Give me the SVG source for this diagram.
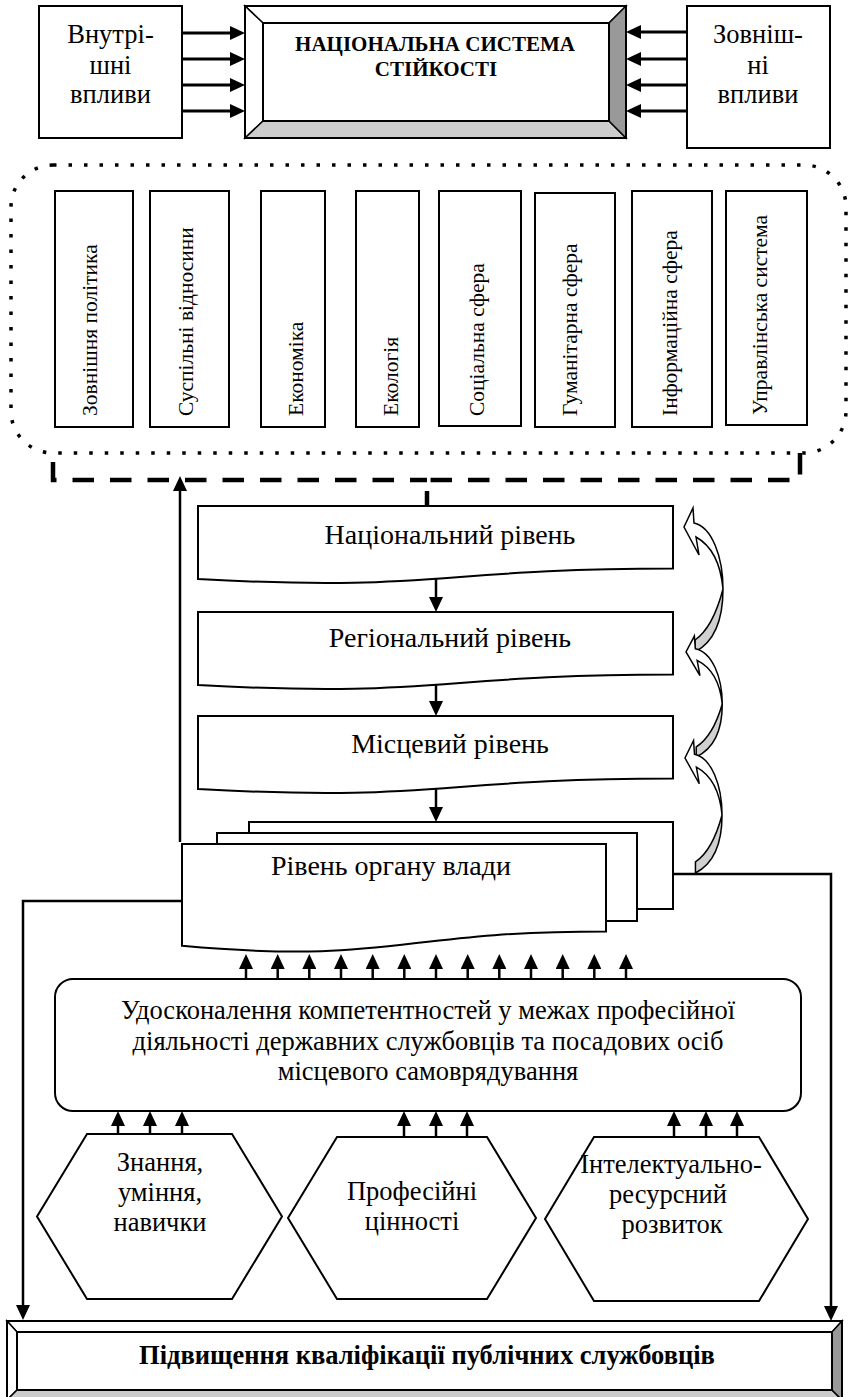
<svg xmlns="http://www.w3.org/2000/svg" width="848" height="1397" viewBox="0 0 848 1397" font-family="'Liberation Serif', 'DejaVu Serif', serif">
<defs>
<style>
text{font-family:"Liberation Serif","DejaVu Serif",serif;fill:#000}
.t26{font-size:26.5px}
.t28{font-size:28px}
.vt{font-size:21.5px}
.bt{font-weight:bold}
.box{fill:#fff;stroke:#000;stroke-width:2}
.bev{stroke:#000;stroke-width:1.5;stroke-linejoin:miter}
.arr{fill:none;stroke:#000;stroke-width:3;marker-end:url(#ah)}
.sarr{fill:none;stroke:#000;stroke-width:2.5;marker-end:url(#ah)}
.dash{fill:none;stroke:#000;stroke-width:4.5;stroke-dasharray:21.5 16}
.dot{fill:none;stroke:#000;stroke-width:3.5;stroke-dasharray:3.5 12}
.cv{stroke:#000;stroke-width:1.5;vector-effect:non-scaling-stroke;stroke-linejoin:miter}
</style>
<marker id="ah" markerUnits="userSpaceOnUse" markerWidth="16" markerHeight="14" refX="11" refY="7" orient="auto"><path d="M0,0 L15,7 L0,14 Z" fill="#000"/></marker>
<g id="curvedArrow">
<path class="cv" fill="#fff" d="M10,-4 C28,0 39,30 39,62 C37,40 30,20 12,10 L15,28 L0,0 L9,-19 Z"/>
<path class="cv" fill="#d0d0d0" d="M39,62 C39,95 30,115 11,125 L11,113 C24,104 33,85 39,62 Z"/>
</g>
</defs>

<g id="internal">
<rect class="box" x="39" y="6" width="143" height="132"/>
<text class="t26" x="110.5" y="43" text-anchor="middle">Внутрі-</text>
<text class="t26" x="110.5" y="74" text-anchor="middle">шні</text>
<text class="t26" x="110.5" y="103" text-anchor="middle">впливи</text>
</g>

<g id="external">
<rect class="box" x="687" y="6" width="143" height="142"/>
<text class="t26" x="758" y="43" text-anchor="middle">Зовніш-</text>
<text class="t26" x="758" y="74" text-anchor="middle">ні</text>
<text class="t26" x="758" y="103" text-anchor="middle">впливи</text>
</g>

<g id="national-system">
<polygon class="bev" fill="#fff" points="245,6 626,6 609,23 263,23"/>
<polygon class="bev" fill="#fff" points="245,6 263,23 263,121 245,138"/>
<polygon class="bev" fill="#cccccc" points="245,138 263,121 609,121 626,138"/>
<polygon class="bev" fill="#999999" points="626,6 626,138 609,121 609,23"/>
<rect x="245" y="6" width="381" height="132" fill="none" stroke="#000" stroke-width="2"/>
<rect x="263" y="23" width="346" height="98" fill="#fff" stroke="#000" stroke-width="2"/>
<text class="bt" style="font-size:21px" x="435" y="51" text-anchor="middle">НАЦІОНАЛЬНА СИСТЕМА</text>
<text class="bt" style="font-size:21px" x="436" y="76" text-anchor="middle">СТІЙКОСТІ</text>
</g>

<g id="spheres">
<rect class="dot" x="11" y="165" width="835" height="288" rx="42" ry="42"/>
<g id="s1"><rect class="box" x="55" y="191" width="78" height="236"/><text class="vt" transform="translate(97,416) rotate(-90)">Зовнішня політика</text></g>
<g id="s2"><rect class="box" x="150" y="191" width="79" height="236"/><text class="vt" transform="translate(193,416) rotate(-90)">Суспільні відносини</text></g>
<g id="s3"><rect class="box" x="261" y="191" width="64" height="236"/><text class="vt" transform="translate(303,416) rotate(-90)">Економіка</text></g>
<g id="s4"><rect class="box" x="356" y="191" width="63" height="236"/><text class="vt" transform="translate(398,416) rotate(-90)">Екологія</text></g>
<g id="s5"><rect class="box" x="439" y="191" width="82" height="235"/><text class="vt" transform="translate(484,416) rotate(-90)">Соціальна сфера</text></g>
<g id="s6"><rect class="box" x="535" y="193" width="80" height="234"/><text class="vt" transform="translate(577,416) rotate(-90)">Гуманітарна сфера</text></g>
<g id="s7"><rect class="box" x="632" y="191" width="80" height="236"/><text class="vt" transform="translate(677,416) rotate(-90)">Інформаційна сфера</text></g>
<g id="s8"><rect class="box" x="726" y="191" width="81" height="234"/><text class="vt" transform="translate(767,415) rotate(-90)">Управлінська система</text></g>
</g>

<g id="level-national">
<path class="box" d="M198,506 H673 V568.6 C435.5,568.6 435.5,592.3 198,579 Z"/>
<text class="t28" x="450" y="544" text-anchor="middle">Національний рівень</text>
</g>
<g id="level-regional">
<path class="box" d="M198,612 H673 V674.6 C435.5,674.6 435.5,698.3 198,685 Z"/>
<text class="t28" x="450" y="647" text-anchor="middle">Регіональний рівень</text>
</g>
<g id="level-local">
<path class="box" d="M198,716 H673 V778.6 C435.5,778.6 435.5,802.3 198,789 Z"/>
<text class="t28" x="450" y="753" text-anchor="middle">Місцевий рівень</text>
</g>
<g id="level-authority">
<rect class="box" x="249" y="822" width="424" height="87"/>
<rect class="box" x="217" y="833" width="420" height="88"/>
<path class="box" d="M182,844 H606 V931.4 C394,931.4 394,964.7 182,945.8 Z"/>
<text class="t28" x="391" y="875" text-anchor="middle">Рівень органу влади</text>
</g>

<g id="competence">
<rect class="box" x="55" y="979" width="746" height="132" rx="18" ry="18"/>
<text class="t26" x="428" y="1019" text-anchor="middle">Удосконалення компетентностей у межах професійної</text>
<text class="t26" x="428" y="1050" text-anchor="middle">діяльності державних службовців та посадових осіб</text>
<text class="t26" x="428" y="1080" text-anchor="middle">місцевого самоврядування</text>
</g>

<g id="hex-knowledge">
<polygon class="box" points="87,1134 232,1134 282,1216.5 232,1299 87,1299 37,1216.5"/>
<text class="t26" x="160" y="1171" text-anchor="middle">Знання,</text>
<text class="t26" x="160" y="1201" text-anchor="middle">уміння,</text>
<text class="t26" x="160" y="1231" text-anchor="middle">навички</text>
</g>
<g id="hex-values">
<polygon class="box" points="337,1137 487,1137 536,1218 487,1299 337,1299 288,1218"/>
<text class="t26" x="412" y="1200" text-anchor="middle">Професійні</text>
<text class="t26" x="412" y="1230" text-anchor="middle">цінності</text>
</g>
<g id="hex-development">
<polygon class="box" points="594,1137 759,1137 808,1219 759,1301 594,1301 545,1219"/>
<text class="t26" x="671" y="1173" text-anchor="middle">Інтелектуально-</text>
<text class="t26" x="668" y="1203" text-anchor="middle">ресурсний</text>
<text class="t26" x="672" y="1233" text-anchor="middle">розвиток</text>
</g>

<g id="qualification">
<polygon class="bev" fill="#fff" points="7,1321 842,1321 832,1332 17,1332"/>
<polygon class="bev" fill="#fff" points="7,1321 17,1332 17,1390 7,1400"/>
<polygon class="bev" fill="#cccccc" points="7,1400 17,1390 832,1390 842,1400"/>
<polygon class="bev" fill="#999999" points="842,1321 842,1400 832,1390 832,1332"/>
<rect x="7" y="1321" width="835" height="79" fill="none" stroke="#000" stroke-width="2"/>
<rect x="17" y="1332" width="815" height="58" fill="#fff" stroke="#000" stroke-width="2"/>
<text class="bt t26" x="427" y="1364" text-anchor="middle">Підвищення кваліфікації публічних службовців</text>
</g>

<g id="connectors">
<line class="arr" x1="182" y1="33" x2="241" y2="33"/>
<line class="arr" x1="182" y1="59" x2="241" y2="59"/>
<line class="arr" x1="182" y1="85" x2="241" y2="85"/>
<line class="arr" x1="182" y1="111" x2="241" y2="111"/>
<line class="arr" x1="687" y1="32" x2="630" y2="32"/>
<line class="arr" x1="687" y1="59" x2="630" y2="59"/>
<line class="arr" x1="687" y1="85" x2="630" y2="85"/>
<line class="arr" x1="687" y1="111" x2="630" y2="111"/>

<path class="dash" d="M53,462 V480 H427"/>
<path class="dash" d="M800,453 V480 H427"/>
<line x1="427" y1="491" x2="427" y2="506" stroke="#000" stroke-width="4.5"/>

<line class="sarr" x1="180" y1="842" x2="180" y2="480"/>
<line class="sarr" x1="436" y1="579" x2="436" y2="608"/>
<line class="sarr" x1="436" y1="685" x2="436" y2="712"/>
<line class="sarr" x1="436" y1="789" x2="436" y2="818"/>

<path class="sarr" d="M182,901 H23 V1316"/>
<path class="sarr" d="M673,874 H831 V1317"/>

<line class="sarr" x1="246" y1="979" x2="246" y2="958"/>
<line class="sarr" x1="277.7" y1="979" x2="277.7" y2="958"/>
<line class="sarr" x1="309.3" y1="979" x2="309.3" y2="958"/>
<line class="sarr" x1="341" y1="979" x2="341" y2="958"/>
<line class="sarr" x1="372.7" y1="979" x2="372.7" y2="958"/>
<line class="sarr" x1="404.3" y1="979" x2="404.3" y2="958"/>
<line class="sarr" x1="436" y1="979" x2="436" y2="958"/>
<line class="sarr" x1="467.7" y1="979" x2="467.7" y2="958"/>
<line class="sarr" x1="499.3" y1="979" x2="499.3" y2="958"/>
<line class="sarr" x1="531" y1="979" x2="531" y2="958"/>
<line class="sarr" x1="562.7" y1="979" x2="562.7" y2="958"/>
<line class="sarr" x1="594.3" y1="979" x2="594.3" y2="958"/>
<line class="sarr" x1="626" y1="979" x2="626" y2="958"/>

<line class="sarr" x1="118" y1="1134" x2="118" y2="1115"/>
<line class="sarr" x1="150" y1="1134" x2="150" y2="1115"/>
<line class="sarr" x1="182" y1="1134" x2="182" y2="1115"/>
<line class="sarr" x1="404" y1="1137" x2="404" y2="1115"/>
<line class="sarr" x1="436" y1="1137" x2="436" y2="1115"/>
<line class="sarr" x1="467" y1="1137" x2="467" y2="1115"/>
<line class="sarr" x1="674" y1="1137" x2="674" y2="1115"/>
<line class="sarr" x1="706" y1="1137" x2="706" y2="1115"/>
<line class="sarr" x1="737" y1="1137" x2="737" y2="1115"/>

<use href="#curvedArrow" transform="translate(684,527)"/>
<use href="#curvedArrow" transform="translate(686,652) scale(0.93,0.84)"/>
<use href="#curvedArrow" transform="translate(685,758) scale(0.95,0.92)"/>
</g>
</svg>
